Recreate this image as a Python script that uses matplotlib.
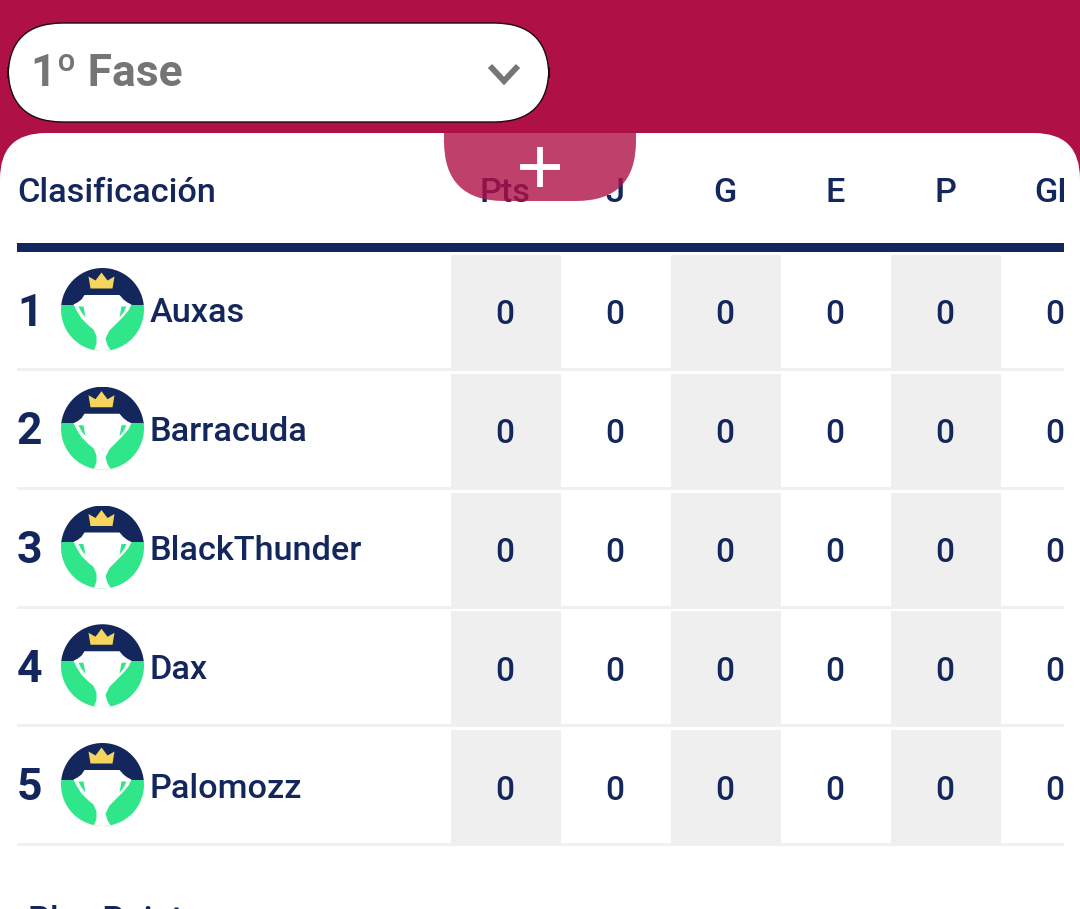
import matplotlib
matplotlib.use("Agg")
import matplotlib.pyplot as plt
from matplotlib.patches import Rectangle, Circle, FancyBboxPatch, Polygon

plt.rcParams['font.family'] = ['Roboto', 'DejaVu Sans']

# table content
teams = ["Auxas", "Barracuda", "BlackThunder", "Dax", "Palomozz"]
ranks = [1, 2, 3, 4, 5]
columns = ["Pts", "J", "G", "E", "P", "GF"]
values = [
    [0, 0, 0, 0, 0, 0],
    [0, 0, 0, 0, 0, 0],
    [0, 0, 0, 0, 0, 0],
    [0, 0, 0, 0, 0, 0],
    [0, 0, 0, 0, 0, 0],
]
phase_label = "1º Fase"
table_title = "Clasificación"
next_title = "Play Points"

CRIMSON = "#AF1046"
NAVY = "#14275C"
GREEN = "#30E68A"
CELL = "#EFEFEF"
RULE = "#F0F0F0"
GRAY = "#757575"
GOLD = "#F6D55F"

fig = plt.figure(figsize=(10.8, 9.09), dpi=100, facecolor=CRIMSON)
ax = fig.add_axes([0, 0, 1, 1])
ax.set_xlim(0, 1080)
ax.set_ylim(909, 0)
ax.axis("off")


def rounded(x0, y0, x1, y1, r, **kw):
    return FancyBboxPatch((x0, y0), x1 - x0, y1 - y0,
                          boxstyle="round,pad=0,rounding_size=%g" % r, **kw)


def draw_logo(cx, cy):
    r = 41.5
    disc = Circle((cx, cy), r, transform=ax.transData)
    ax.add_patch(Rectangle((cx - r, cy - r), 2 * r, r - 4.5, fc=NAVY, ec="none", clip_path=disc, zorder=3))
    ax.add_patch(Rectangle((cx - r, cy - 5), 2 * r, r + 5, fc=GREEN, ec="none", clip_path=disc, zorder=3))

    # cup outline, white, runs out through the bottom of the disc
    cup = [(-29, -5), (-25, -7), (-21, -10), (-18, -14.5), (17, -14.5), (21, -10), (25, -7), (29, -5),
           (26, 1), (21, 7), (14, 14), (7, 21), (3, 29), (5, 36), (9, 42),
           (-9, 42), (-6, 34), (-6, 27), (-9, 20), (-14, 16), (-21, 9), (-26, 1)]
    ax.add_patch(Polygon([(cx + a, cy + b) for a, b in cup], fc="white", ec="none", clip_path=disc, zorder=4))

    # handle slivers
    for s in (-1, 1):
        pts = [(cx + s * 24, cy - 3), (cx + s * 19, cy - 3), (cx + s * 17, cy + 8), (cx + s * 21, cy + 3)]
        ax.add_patch(Polygon(pts, fc=GREEN, ec="none", zorder=5))

    crown = [(-14, -33), (-7, -29), (-1, -37), (5, -29), (12, -33), (10, -21), (-12, -21)]
    ax.add_patch(Polygon([(cx + a, cy + b) for a, b in crown], fc=GOLD, ec="none", zorder=5))


# card
ax.add_patch(rounded(0, 133, 1080, 1000, 46, fc="white", ec="none", zorder=1))

# dropdown
ax.add_patch(rounded(8, 23, 549, 122, 55, fc="white", ec="#1a0a10", lw=1.0, zorder=2))
ax.text(31, 70, phase_label, fontsize=31.9, fontweight="bold", color=GRAY, va="center_baseline", ha="left", zorder=3)
ax.plot([490, 504, 518], [66, 81, 66], color=GRAY, lw=4.2, solid_capstyle="butt", solid_joinstyle="miter", zorder=3)

# header
col_x0 = 450
col_w = 110
clip_box = Rectangle((0, 0), 1064, 909, transform=ax.transData)
ax.text(17, 189, table_title, fontsize=24.7, fontweight="medium", color=NAVY, va="center_baseline", ha="left", zorder=3)
for j, name in enumerate(columns):
    t = ax.text(col_x0 + col_w * (j + 0.5), 189, name, fontsize=24.7, fontweight="medium", color=NAVY,
                va="center_baseline", ha="center", zorder=3, clip_on=True)
    t.set_clip_path(clip_box)
ax.add_patch(Rectangle((17, 243), 1047, 9, fc=NAVY, ec="none", zorder=3))

# rows
row_h = 118.75
for i, team in enumerate(teams):
    top = 255 + row_h * i
    for j in range(0, len(columns), 2):
        ax.add_patch(Rectangle((451 + col_w * j, top), col_w, 114, fc=CELL, ec="none", zorder=2))
    ax.add_patch(Rectangle((17, top + 113), 1047, 3, fc=RULE, ec="none", zorder=2))
    cy = top + 57
    ax.text(17, cy - 3, str(ranks[i]), fontsize=32, fontweight="bold", color=NAVY,
            va="center_baseline", ha="left", zorder=3)
    draw_logo(102.5, top + 54.5)
    ax.text(150, cy - 2, team, fontsize=24.7, fontweight="medium", color=NAVY,
            va="center_baseline", ha="left", zorder=3)
    for j, v in enumerate(values[i]):
        t = ax.text(col_x0 + col_w * (j + 0.5), cy, str(v), fontsize=24, fontweight="medium", color=NAVY,
                    va="center_baseline", ha="center", zorder=3, clip_on=True)
        t.set_clip_path(clip_box)

# text cut off by the bottom edge
ax.text(28, 905, next_title, fontsize=24.7, fontweight="medium", color=NAVY, va="top", ha="left", zorder=3)

# translucent floating button over the header, cut at the top of the card
btn = rounded(444, 40, 636, 201, 60, fc=CRIMSON, ec="none", alpha=0.8, zorder=6)
ax.add_patch(btn)
btn.set_clip_path(Rectangle((0, 133), 1080, 200, transform=ax.transData))
ax.plot([540, 540], [147, 187], color="white", lw=4.2, solid_capstyle="butt", zorder=7)
ax.plot([520, 560], [167, 167], color="white", lw=4.2, solid_capstyle="butt", zorder=7)

fig.savefig("out.png", dpi=100, facecolor=CRIMSON)
